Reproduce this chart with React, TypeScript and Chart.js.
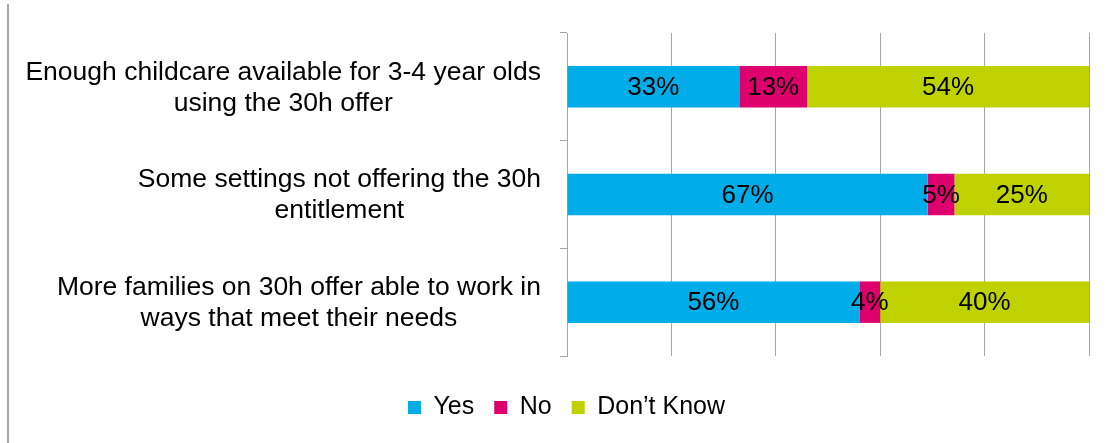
import React, { useEffect, useRef } from 'react';
import { Chart, registerables } from 'chart.js';

Chart.register(...registerables);

const categories: string[][] = [
  ['Enough childcare available for 3-4 year olds', 'using the 30h offer'],
  ['Some settings not offering the 30h', 'entitlement'],
  ['More families on 30h offer able to work in', 'ways that meet their needs'],
];
const seriesNames = ['Yes', 'No', 'Don\u2019t Know'];
const yesValues = [33, 67, 56];
const noValues = [13, 5, 4];
const dontKnowValues = [54, 25, 40];
const seriesColors = ['#00ADE8', '#DE006C', '#BFD200'];
const xTickStep = 20;
const xMax = 100;

const FONT = '"Liberation Sans", Arial, sans-serif';
const GRID = '#a6a6a6';

const totals = categories.map((_, i) => yesValues[i] + noValues[i] + dontKnowValues[i]);
const rawSeries = [yesValues, noValues, dontKnowValues];

const labelPlugin = {
  id: 'customLabels',
  afterDraw(chart: any) {
    const ctx = chart.ctx;
    ctx.save();
    // frame line on the left
    ctx.fillStyle = GRID;
    ctx.fillRect(7, 4, 2, chart.height - 4);

    // category labels
    const yScale = chart.scales.y;
    ctx.font = `26.5px ${FONT}`;
    ctx.fillStyle = '#000';
    ctx.textAlign = 'center';
    ctx.textBaseline = 'middle';
    const lineH = 31;
    const rightEdge = yScale.right - 26;
    categories.forEach((lines, i) => {
      const cy = yScale.getPixelForValue(i);
      const w = Math.max(...lines.map((l) => ctx.measureText(l).width));
      const cx = rightEdge - w / 2;
      lines.forEach((l, j) => {
        ctx.fillText(l, cx, cy + 1 + (j - (lines.length - 1) / 2) * lineH);
      });
    });

    // data labels
    ctx.font = `26px ${FONT}`;
    chart.data.datasets.forEach((ds: any, di: number) => {
      const meta = chart.getDatasetMeta(di);
      meta.data.forEach((el: any, i: number) => {
        const { x, base, y } = el.getProps(['x', 'base', 'y'], true);
        ctx.fillText(`${rawSeries[di][i]}%`, (x + base) / 2, y + 1);
      });
    });
    ctx.restore();
  },
};

export default function App() {
  const ref = useRef<HTMLCanvasElement | null>(null);
  useEffect(() => {
    if (!ref.current) return;
    Chart.defaults.font.family = FONT;
    const chart = new Chart(ref.current, {
      type: 'bar',
      data: {
        labels: categories.map((c) => c.join(' ')),
        datasets: seriesNames.map((name, di) => ({
          label: name,
          data: rawSeries[di].map((v, i) => (v / totals[i]) * 100),
          backgroundColor: seriesColors[di],
          borderWidth: 0,
          categoryPercentage: 1,
          barPercentage: 0.385,
        })),
      },
      options: {
        indexAxis: 'y',
        responsive: false,
        animation: false,
        layout: { padding: { top: 33, left: 44, right: 17, bottom: 13 } },
        plugins: {
          tooltip: { enabled: false },
          legend: {
            position: 'bottom',
            labels: {
              boxWidth: 13,
              boxHeight: 13,
              padding: 20,
              color: '#000',
              font: { size: 25, family: FONT },
            },
          },
        },
        scales: {
          x: {
            stacked: true,
            min: 0,
            max: xMax,
            ticks: { display: false, stepSize: xTickStep },
            grid: { color: GRID, drawTicks: false, lineWidth: 1 },
            border: { display: false },
            afterFit: (s: any) => {
              s.height = 19;
            },
          },
          y: {
            stacked: true,
            ticks: { display: false },
            grid: { drawOnChartArea: false, drawTicks: true, tickLength: 7, color: GRID, offset: true },
            border: { display: true, color: GRID },
            afterFit: (s: any) => {
              s.width = 523;
            },
          },
        },
      },
      plugins: [labelPlugin],
    } as any);
    return () => chart.destroy();
  }, []);
  return (
    <div style={{ position: 'fixed', left: 0, top: 0, width: 1106, height: 443, background: '#fff' }}>
      <canvas ref={ref} width={1106} height={443} />
    </div>
  );
}
